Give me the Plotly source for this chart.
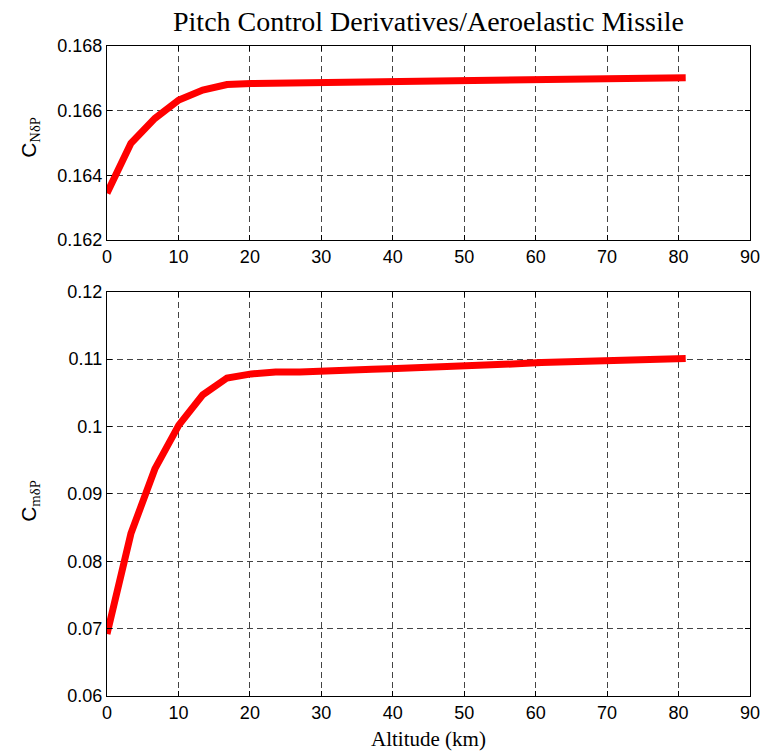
import plotly.graph_objects as go

# Altitude (km)
altitude = [0, 3.35, 6.7, 10.05, 13.4, 16.8, 20.2, 23.6, 27.0, 30.4, 33.8, 37.1, 40.5,
            43.9, 47.3, 50.6, 54.0, 57.4, 60.8, 64.2, 67.5, 70.9, 74.3, 77.7, 81.0]
# C_N delta P
cn_dp = [0.16345, 0.16499, 0.16576, 0.16633, 0.16664, 0.16681, 0.16684, 0.16685, 0.16685,
         0.16685, 0.16688, 0.16688, 0.16688, 0.16688, 0.16689, 0.16692, 0.16692, 0.16692,
         0.16692, 0.16693, 0.16697, 0.16697, 0.16697, 0.16698, 0.16702]
# C_m delta P
cm_dp = [0.0692, 0.0841, 0.0937, 0.1002, 0.1047, 0.1072, 0.1078, 0.1081, 0.1081, 0.1083,
         0.1083, 0.1085, 0.1086, 0.1087, 0.1088, 0.1090, 0.1091, 0.1093, 0.1095, 0.1096,
         0.1097, 0.1099, 0.1100, 0.1101, 0.1101]

x_ticks = [0, 10, 20, 30, 40, 50, 60, 70, 80, 90]
top_y_ticks = [0.162, 0.164, 0.166, 0.168]
top_y_text = ["0.162", "0.164", "0.166", "0.168"]
bot_y_ticks = [0.06, 0.07, 0.08, 0.09, 0.10, 0.11, 0.12]
bot_y_text = ["0.06", "0.07", "0.08", "0.09", "0.1", "0.11", "0.12"]

SANS = "Liberation Sans, Arial, sans-serif"
SERIF = "Liberation Serif, Times New Roman, serif"
RED = "#ff0000"

fig = go.Figure()
fig.add_trace(go.Scatter(x=altitude, y=cn_dp, mode="lines", xaxis="x", yaxis="y",
                         line=dict(color=RED, width=7), showlegend=False))
fig.add_trace(go.Scatter(x=altitude, y=cm_dp, mode="lines", xaxis="x2", yaxis="y2",
                         line=dict(color=RED, width=7), showlegend=False))

axis_common = dict(
    showline=True, linecolor="black", linewidth=1.3, mirror="ticks",
    ticks="inside", ticklen=5, tickcolor="black",
    showgrid=True, gridcolor="#444444", gridwidth=1, griddash="6px,4px",
    zeroline=False, tickfont=dict(family=SANS, size=18, color="black"),
)

fig.update_layout(
    width=772, height=752,
    margin=dict(l=107, r=14, t=46, b=56),
    plot_bgcolor="white", paper_bgcolor="white",
    xaxis=dict(domain=[0, 1], anchor="y", range=[0, 90], tickvals=x_ticks, **axis_common),
    yaxis=dict(domain=[0.7015, 1], anchor="x", range=[0.162, 0.168],
               tickvals=top_y_ticks, ticktext=top_y_text, **axis_common),
    xaxis2=dict(domain=[0, 1], anchor="y2", range=[0, 90], tickvals=x_ticks, **axis_common),
    yaxis2=dict(domain=[0, 0.622], anchor="x2", range=[0.06, 0.12],
                tickvals=bot_y_ticks, ticktext=bot_y_text, **axis_common),
    annotations=[
        dict(text="Pitch Control Derivatives/Aeroelastic Missile", xref="paper", yref="paper",
             x=0.5, y=1.0, yshift=25, showarrow=False, xanchor="center", yanchor="middle",
             font=dict(family=SERIF, size=28, color="black")),
        dict(text='C<sub><span style="font-family:Liberation Serif">NδP</span></sub>',
             xref="paper", yref="paper", x=-0.12, y=0.86, showarrow=False, textangle=-90,
             xanchor="center", yanchor="middle", font=dict(family=SANS, size=21, color="black")),
        dict(text='C<sub><span style="font-family:Liberation Serif">mδP</span></sub>',
             xref="paper", yref="paper", x=-0.12, y=0.30, showarrow=False, textangle=-90,
             xanchor="center", yanchor="middle", font=dict(family=SANS, size=21, color="black")),
        dict(text="Altitude (km)", xref="paper", yref="paper", x=0.5, y=0, yshift=-43,
             showarrow=False, xanchor="center", yanchor="middle",
             font=dict(family=SERIF, size=21, color="black")),
    ],
)

fig.write_html("out.html")
